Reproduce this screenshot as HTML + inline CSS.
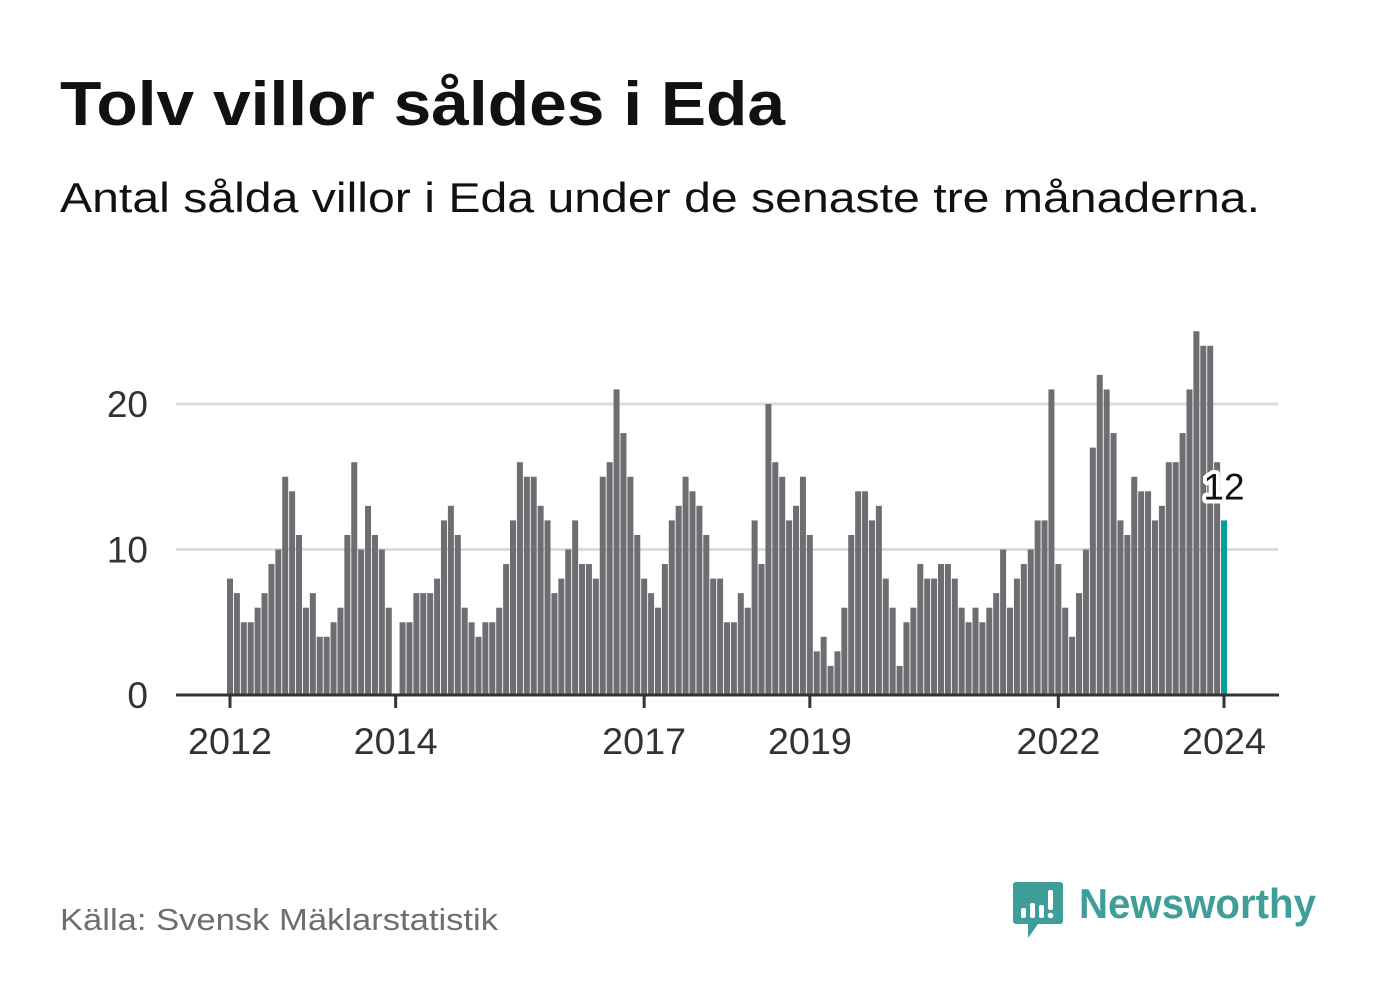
<!DOCTYPE html>
<html><head><meta charset="utf-8"><style>
body{margin:0;background:#fff;width:1382px;height:999px;overflow:hidden;font-family:"Liberation Sans","DejaVu Sans",sans-serif;}
svg{position:absolute;left:0;top:0;}
</style></head><body>
<svg id="c" width="1382" height="999">
<text x="60" y="125" font-size="62" font-weight="bold" fill="#111" textLength="725" lengthAdjust="spacingAndGlyphs">Tolv villor såldes i Eda</text>
<text x="60" y="212" font-size="42" fill="#111" textLength="1200" lengthAdjust="spacingAndGlyphs">Antal sålda villor i Eda under de senaste tre månaderna.</text>
<text x="60" y="930" font-size="31" fill="#6e6d72" textLength="438" lengthAdjust="spacingAndGlyphs">Källa: Svensk Mäklarstatistik</text>
<g>
<path d="M1016 882 h44 a3 3 0 0 1 3 3 v36 a3 3 0 0 1 -3 3 h-22 l-10 14 v-14 h-12 a3 3 0 0 1 -3 -3 v-36 a3 3 0 0 1 3 -3z" fill="#3f9e97"/>
<rect x="1021" y="908" width="5" height="10" rx="2" fill="#fff"/>
<rect x="1030" y="903" width="5" height="15" rx="2" fill="#fff"/>
<rect x="1039" y="905" width="5" height="13" rx="2" fill="#fff"/>
<rect x="1048" y="890" width="5" height="20" rx="2" fill="#fff"/>
<circle cx="1050.5" cy="915.5" r="2.8" fill="#fff"/>
<text x="1079" y="918" font-size="42" font-weight="bold" fill="#3f9e97" textLength="237" lengthAdjust="spacingAndGlyphs">Newsworthy</text>
</g>
<g id="plot"></g>
</svg>
<script>
const years=[2012,2014,2017,2019,2022,2024];
const yTicks=[0,10,20];
const startYear=2012;
const values=[8,7,5,5,6,7,9,10,15,14,11,6,
7,4,4,5,6,11,16,10,13,11,10,6,
0,5,5,7,7,7,8,12,13,11,6,5,
4,5,5,6,9,12,16,15,15,13,12,7,
8,10,12,9,9,8,15,16,21,18,15,11,
8,7,6,9,12,13,15,14,13,11,8,8,
5,5,7,6,12,9,20,16,15,12,13,15,
11,3,4,2,3,6,11,14,14,12,13,8,
6,2,5,6,9,8,8,9,9,8,6,5,
6,5,6,7,10,6,8,9,10,12,12,21,
9,6,4,7,10,17,22,21,18,12,11,15,
14,14,12,13,16,16,18,21,25,24,24,16,
12];
const NS='http://www.w3.org/2000/svg';
const g=document.getElementById('plot');
const x0=230,step=(1224-230)/144;
const xs=i=>x0+i*step;
const ys=v=>695-v*14.55;
function mk(t,a){const e=document.createElementNS(NS,t);for(const k in a)e.setAttribute(k,a[k]);g.appendChild(e);return e;}
yTicks.forEach(v=>{
 if(v>0){const l=mk('line',{x1:176,x2:1278,y1:ys(v),y2:ys(v),stroke:'#dcdcdc','stroke-width':3});
 
 }
 const t=mk('text',{x:148,y:ys(v)+13,'font-size':37,'text-anchor':'end',fill:'#333'});
 t.textContent=v;
 
 
});
values.forEach((v,i)=>{
 const last=i===values.length-1;
 const r=mk('rect',{x:xs(i)-3,y:ys(v),width:6,height:v*14.55,fill:last?'#00a19a':'#6e6d72'});
 
 
});
const ax=mk('line',{x1:176,x2:1279,y1:695,y2:695,stroke:'#333','stroke-width':3});


years.forEach(y=>{
 const x=xs((y-startYear)*12);
 const tk=mk('line',{x1:x,x2:x,y1:695,y2:708,stroke:'#333','stroke-width':3});
 
 
 const t=mk('text',{x:x,y:754,'font-size':37,'text-anchor':'middle',fill:'#333',textLength:84,lengthAdjust:'spacingAndGlyphs'});
 t.textContent=y;
 
 
});
const lv=values[values.length-1];
const lab=mk('text',{x:1224,y:ys(lv)-21,'font-size':37,'text-anchor':'middle',fill:'#111',stroke:'#fff','stroke-width':8,'paint-order':'stroke','stroke-linejoin':'round'});
lab.textContent=lv;


</script>
</body></html>
